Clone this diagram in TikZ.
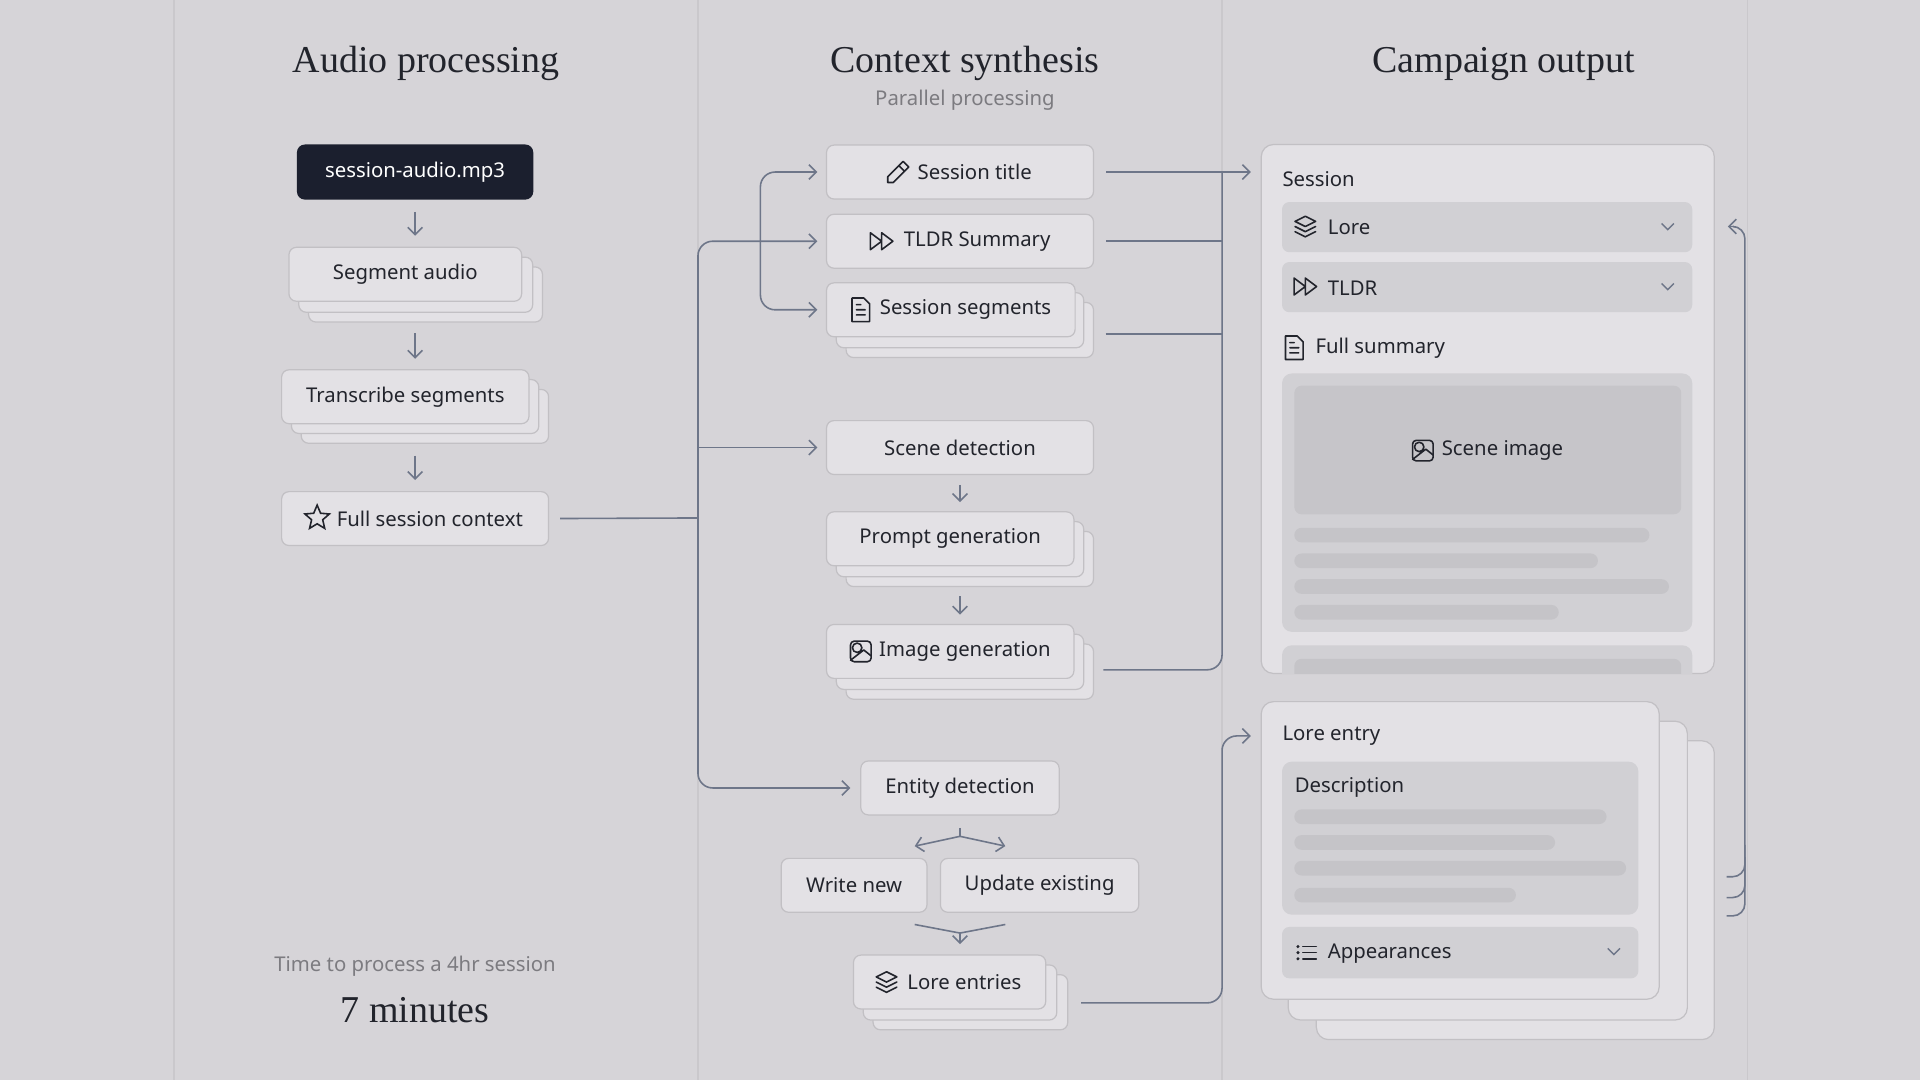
\documentclass[tikz,border=0pt]{standalone}
\usepackage{fontspec}
\setmainfont{Noto Sans}
\newfontfamily\titlefont{Liberation Serif}
\usetikzlibrary{shapes.geometric,arrows.meta}
\definecolor{bg}{HTML}{D6D4D8}
\definecolor{colline}{HTML}{CAC8CC}
\definecolor{bx}{HTML}{E3E1E5}
\definecolor{bd}{HTML}{C2C0C4}
\definecolor{dk}{HTML}{1B1F2E}
\definecolor{ar}{HTML}{6E7689}
\definecolor{ink}{HTML}{22242C}
\definecolor{pan}{HTML}{D1D0D4}
\definecolor{img}{HTML}{C6C5C9}
\definecolor{bar}{HTML}{C5C4C8}
\definecolor{gr}{HTML}{7C7B80}
\tikzset{
 box/.style={draw=bd,fill=bx,rounded corners=3pt,line width=0.5pt,inner sep=0pt,minimum height=22pt,text=ink,font=\fontsize{8.3}{10}\selectfont},
 back/.style={draw=bd,fill=bx,rounded corners=3pt,line width=0.5pt},
 ln/.style={draw=ar,line width=0.65pt},
 arr/.style={ln,-{Straight Barb[length=3pt,width=6pt]}},
 ic/.style={draw=ink,line width=0.65pt,line join=round,line cap=round},
 lbl/.style={anchor=west,inner sep=0pt,font=\fontsize{8.3}{10}\selectfont,text=ink},
 title/.style={font=\titlefont\fontsize{15.5}{18}\selectfont,text=ink},
 skel/.style={fill=bar,rounded corners=3pt},
 pics/layers/.style={code={\begin{scope}[scale=1.2]\draw[ic] (0,-7)--(7,-3.5)--(0,0)--(-7,-3.5)--cycle (-7,0)--(0,3.5)--(7,0) (-7,3.5)--(0,7)--(7,3.5);\end{scope}}},
 pics/ff/.style={code={\begin{scope}[scale=1.15]\draw[ic] (-8,-6)--(0,0)--(-8,6)--cycle (0,-6)--(8,0)--(0,6)--cycle;\end{scope}}},
 pics/doc/.style={code={\begin{scope}[scale=1.2]\draw[ic] (-6,-8)--(2,-8)--(6,-4)--(6,8)--(-6,8)--cycle (-3,0)--(3,0) (-3,3.5)--(3,3.5) (-3,-3.5)--(0,-3.5);\end{scope}}},
 pics/image/.style={code={\begin{scope}[scale=1.2]\draw[ic,rounded corners=1.5pt] (-7,-7) rectangle (7,7); \draw[ic] (-2.5,-2.5) circle (1.6pt) (-7,6)--(2,-1)--(7,3);\end{scope}}},
 pics/pencil/.style={code={\begin{scope}[scale=1.15]\draw[ic] (-7,7)--(-7,3)--(4,-8)--(8,-4)--(-3,7)--cycle (1,-5)--(5,-1);\end{scope}}},
 pics/listic/.style={code={\fill[ink] (-7,-5) circle (0.7pt) (-7,0) circle (0.7pt) (-7,5) circle (0.7pt); \draw[ic] (-3,-5)--(8,-5) (-3,0)--(8,0) (-3,5)--(8,5);}},
 pics/chev/.style={code={\draw[draw=ar,line width=0.6pt] (-5,-2.5)--(0,2.5)--(5,-2.5);}},
}
\begin{document}
\begin{tikzpicture}[x=0.5pt,y=-0.5pt]
\fill[bg] (0,0) rectangle (1568,882);
\useasboundingbox (0,0) rectangle (1568,882);
\foreach \xx in {142,570,998,1427} \draw[colline,line width=0.6pt] (\xx,0)--(\xx,882);

% titles
\node[title] (t1) at (348,52) {Audio processing};
\node[title] (t2) at (788,52) {Context synthesis};
\node[title] (t3) at (1228,52) {Campaign output};
\node[font=\fontsize{8.3}{10}\selectfont,text=gr] (t2s) at (788,82) {Parallel processing};

% left column
\node[box,fill=dk,draw=dk,text=white,minimum width=96pt] (sa) at (339,140.5) {session-audio.mp3};
\draw[back] (252,218) rectangle (443,263);
\draw[back] (244,210) rectangle (435,255);
\node[box,minimum width=95pt] (seg) at (331,224) {Segment audio};
\draw[back] (246,318) rectangle (448,362);
\draw[back] (238,310) rectangle (440,354);
\node[box,minimum width=101pt] (tr) at (331,324) {Transcribe segments};
\node[box,minimum width=109pt] (fsc) at (339,423.5) {\hspace{12pt}Full session context};
\node[star,star points=5,star point ratio=2.2,draw=ink,line width=0.65pt,minimum size=10.5pt,inner sep=0pt] (stic) at (259,423) {};
\draw[arr,shorten <=5pt,shorten >=4.5pt] (sa.south) -- (sa.south |- seg.north);
\draw[arr,shorten <=13pt,shorten >=4.5pt] (339,246) -- (339,302);
\draw[arr,shorten <=13pt,shorten >=4.5pt] (339,346) -- (339,401);

% middle column
\node[box,minimum width=109pt] (title) at (784,140.5) {\hspace{12pt}Session title};
\pic at (733,141) {pencil};
\node[box,minimum width=109pt] (tldr) at (784,197) {\hspace{14pt}TLDR Summary};
\pic at (720,197) {ff};
\draw[back] (691,247) rectangle (893,292);
\draw[back] (683,239) rectangle (885,284);
\node[box,minimum width=101.5pt] (segs) at (776.5,253) {\hspace{12pt}Session segments};
\pic at (703,253) {doc};
\node[box,minimum width=109pt] (scene) at (784,365.5) {Scene detection};
\draw[back] (691,434) rectangle (893,479);
\draw[back] (683,426) rectangle (885,471);
\node[box,minimum width=101pt] (prompt) at (776,440) {Prompt generation};
\draw[back] (691,526) rectangle (893,571);
\draw[back] (683,518) rectangle (885,563);
\node[box,minimum width=101pt] (imgg) at (776,532) {\hspace{12pt}Image generation};
\pic at (703,532) {image};
\node[box,minimum width=81pt] (ent) at (784,643.5) {Entity detection};
\node[box,minimum width=59.5pt] (wn) at (697.5,723) {Write new};
\node[box,minimum width=81pt] (ue) at (849,723) {Update existing};
\draw[back] (713,796) rectangle (872,841);
\draw[back] (705,788) rectangle (863,833);
\node[box,minimum width=78.5pt] (lore) at (775.5,802) {\hspace{12pt}Lore entries};
\pic at (724,802) {layers};

\draw[arr,shorten <=4pt,shorten >=4pt] (784,388) -- (784,418);
\draw[arr,shorten <=4pt,shorten >=4pt] (784,479) -- (784,510);
\coordinate (fk) at (784,683);
\draw[ln] ([yshift=-5pt]ent.south) -- (fk);
\draw[arr] (fk) -- (747,691);
\draw[arr] (fk) -- (821,691);
\coordinate (mg) at (784,762);
\draw[ln] (747,755) -- (mg) -- (821,755);
\draw[arr] (mg) -- (784,771);

% branch from full context
\coordinate (jn) at (570,423);
\draw[ln,shorten <=4.5pt] (fsc.east) -- (jn);
\draw[arr,rounded corners=6pt] (jn) |- ([xshift=-3.5pt]tldr.west);
\draw[arr] (jn |- scene.west) -- ([xshift=-3.5pt]scene.west);
\draw[arr,rounded corners=6pt] (jn) |- ([xshift=-4pt]ent.west);
\coordinate (br) at (621,197);
\draw[arr,rounded corners=6pt] (br) |- ([xshift=-3.5pt]title.west);
\draw[arr,rounded corners=6pt] (br) |- ([xshift=-3.5pt]segs.west);

% right panel: session card
\node[draw=bd,fill=bx,rounded corners=5pt,line width=0.5pt,minimum width=185pt,minimum height=216pt,inner sep=0pt] (sess) at (1215,334) {};
\node[lbl] (sl) at (1047,146) {Session};
\node[fill=pan,rounded corners=3pt,minimum width=167.5pt,minimum height=20.5pt,inner sep=0pt] (rl) at (1214.5,185.5) {};
\node[lbl] at (1084,186) {Lore};
\pic at (1066,185) {layers}; \pic at (1362,185) {chev};
\node[fill=pan,rounded corners=3pt,minimum width=167.5pt,minimum height=20.5pt,inner sep=0pt] (rt) at (1214.5,234.5) {};
\node[lbl] at (1084,235) {TLDR};
\pic at (1066,234) {ff}; \pic at (1362,234) {chev};
\node[lbl] at (1074,284) {Full summary};
\pic at (1057,284) {doc};
\fill[pan,rounded corners=4pt] (1047,305) rectangle (1382,516);
\node[fill=img,rounded corners=3pt,minimum width=158pt,minimum height=52.5pt,inner sep=0pt,font=\fontsize{8.3}{10}\selectfont,text=ink] (scimg) at (1215,367.5) {\hspace{12pt}Scene image};
\pic at (1162,368) {image};
\fill[skel] (1057,431) rectangle (1347,443);
\fill[skel] (1057,452) rectangle (1305,464);
\fill[skel] (1057,473) rectangle (1363,485);
\fill[skel] (1057,494) rectangle (1273,506);
\begin{scope}
\clip (1030,520) rectangle (1400,550);
\fill[pan,rounded corners=4pt] (1047,527) rectangle (1382,600);
\fill[skel] (1057,538) rectangle (1373,560);
\end{scope}

% lore entry card
\draw[back,rounded corners=5pt] (1075,605) rectangle (1400,849);
\draw[back,rounded corners=5pt] (1052,589) rectangle (1378,833);
\node[draw=bd,fill=bx,rounded corners=5pt,line width=0.5pt,minimum width=162.5pt,minimum height=121.5pt,inner sep=0pt] (le) at (1192.5,694.5) {};
\node[lbl] at (1047,601) {Lore entry};
\fill[pan,rounded corners=4pt] (1047,622) rectangle (1338,747);
\node[lbl] at (1057,643) {Description};
\fill[skel] (1057,661) rectangle (1312,673);
\fill[skel] (1057,682) rectangle (1270,694);
\fill[skel] (1057,703) rectangle (1328,715);
\fill[skel] (1057,725) rectangle (1238,737);
\node[fill=pan,rounded corners=3pt,minimum width=145.5pt,minimum height=21pt,inner sep=0pt] (app) at (1192.5,778) {};
\node[lbl] at (1084,778.5) {Appearances};
\pic at (1067,778) {listic}; \pic at (1318,777) {chev};

% connectors to right
\draw[arr,shorten <=5pt] (title.east) -- ([xshift=-4pt]sess.west |- title.east);
\draw[ln,shorten <=5pt] (tldr.east) -- (998,197);
\draw[ln] (903,273) -- (998,273);
\draw[ln,rounded corners=6pt] (901,547) -| (998,141);
\draw[arr,rounded corners=6pt] (883,819) -- (998,819) -- (998,601) -- ([xshift=-4pt]le.west |- 998,601);
\draw[ln,rounded corners=5pt] (1410,748) -- (1425,748) -- (1425,185) -- (1416,185);
\draw[arr] (1418,185) -- (1411,185);
\draw[ln,rounded corners=5pt] (1410,716) -- (1425,716) -- (1425,690);
\draw[ln,rounded corners=5pt] (1410,733) -- (1425,733) -- (1425,700);

% footer
\node[font=\fontsize{8.3}{10}\selectfont,text=gr] (ft) at (339,789) {Time to process a 4hr session};
\node[title] (fm) at (339,825) {7 minutes};
\end{tikzpicture}
\end{document}
